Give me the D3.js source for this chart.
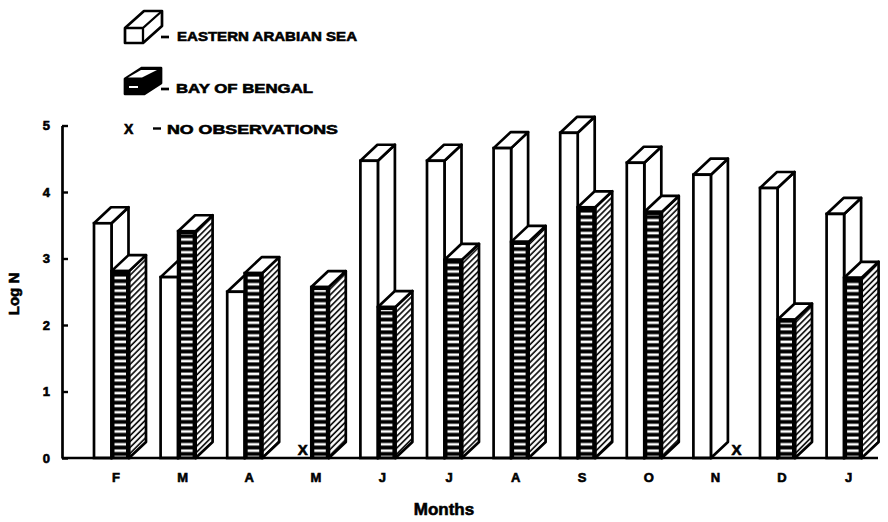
<!DOCTYPE html>
<html>
<head>
<meta charset="utf-8">
<script src="https://cdn.jsdelivr.net/npm/d3@7/dist/d3.min.js"></script>
<style>
  body { margin: 0; background: #fff; }
  svg { display: block; }
  text { font-family: "Liberation Sans", Arial, sans-serif; font-weight: bold; fill: #000; stroke: #000; stroke-width: 0.6; }
</style>
</head>
<body>
<svg id="chart" width="888" height="522"></svg>
<script>
// Monthly Log N, January of the following year at the end
const months = ["F", "M", "A", "M", "J", "J", "A", "S", "O", "N", "D", "J"];
const arabianSea = [3.53, 2.72, 2.50, null, 4.47, 4.47, 4.66, 4.89, 4.44, 4.26, 4.06, 3.67];
const bayOfBengal = [2.81, 3.41, 2.78, 2.57, 2.27, 2.98, 3.25, 3.77, 3.70, null, 2.08, 2.71];
const yTicks = [0, 1, 2, 3, 4, 5];

const svg = d3.select("#chart");

const y = d3.scaleLinear().domain([0, 5]).range([458, 125.5]);
const x = d3.scaleBand().domain(d3.range(months.length)).range([94, 94 + 12 * 66.6]);

const faceW = 17.5;   // width of a bar's front face
const depthX = 17;    // oblique depth offset
const depthY = 16;
const base = y(0);

// patterns: horizontal stripes on the front, diagonal hatch on the side
const defs = svg.append("defs");
const hs = defs.append("pattern").attr("id", "hstripe")
  .attr("patternUnits", "userSpaceOnUse").attr("width", 10).attr("height", 6.4);
hs.append("rect").attr("width", 10).attr("height", 6.4).attr("fill", "#000");
hs.append("rect").attr("y", 1.4).attr("width", 10).attr("height", 2.6).attr("fill", "#fff");

const dg = defs.append("pattern").attr("id", "diag")
  .attr("patternUnits", "userSpaceOnUse").attr("width", 4.2).attr("height", 4.2)
  .attr("patternTransform", "rotate(45)");
dg.append("rect").attr("width", 4.2).attr("height", 4.2).attr("fill", "#fff");
dg.append("line").attr("x1", 1).attr("y1", 0).attr("x2", 1).attr("y2", 4.2)
  .attr("stroke", "#000").attr("stroke-width", 1.6);

const sw = 2.7;

function drawBar(g, xf, v, kind) {
  const yt = y(v);
  const pts = a => a.map(p => p.join(",")).join(" ");
  // side face
  g.append("polygon")
    .attr("points", pts([[xf + faceW, yt], [xf + faceW + depthX, yt - depthY],
                         [xf + faceW + depthX, base - depthY], [xf + faceW, base]]))
    .attr("fill", kind === "bengal" ? "url(#diag)" : "#fff")
    .attr("stroke", "#000").attr("stroke-width", sw).attr("stroke-linejoin", "round");
  // top face
  g.append("polygon")
    .attr("points", pts([[xf, yt], [xf + depthX, yt - depthY],
                         [xf + faceW + depthX, yt - depthY], [xf + faceW, yt]]))
    .attr("fill", "#fff")
    .attr("stroke", "#000").attr("stroke-width", sw).attr("stroke-linejoin", "round");
  // front face
  if (kind === "bengal") {
    g.append("rect").attr("x", xf).attr("y", yt).attr("width", faceW).attr("height", base - yt)
      .attr("fill", "#000");
    g.append("rect").attr("x", xf + 3).attr("y", yt + 3).attr("width", faceW - 6).attr("height", base - yt - 4)
      .attr("fill", "url(#hstripe)");
    g.append("rect").attr("x", xf).attr("y", yt).attr("width", faceW).attr("height", base - yt)
      .attr("fill", "none").attr("stroke", "#000").attr("stroke-width", sw);
  } else {
    g.append("rect").attr("x", xf).attr("y", yt).attr("width", faceW).attr("height", base - yt)
      .attr("fill", "#fff").attr("stroke", "#000").attr("stroke-width", sw);
  }
}

const bars = svg.append("g");
months.forEach((m, i) => {
  const g = bars.append("g");
  const x0 = x(i);
  if (arabianSea[i] != null) drawBar(g, x0, arabianSea[i], "arabian");
  else g.append("text").attr("x", x0 + 9).attr("y", base - 3).attr("text-anchor", "middle")
        .attr("font-size", 15).text("X");
  if (bayOfBengal[i] != null) drawBar(g, x0 + faceW, bayOfBengal[i], "bengal");
  else g.append("text").attr("x", x0 + 43).attr("y", base - 3).attr("text-anchor", "middle")
        .attr("font-size", 15).text("X");
});

// baseline
svg.append("line").attr("x1", 62).attr("x2", 878).attr("y1", base).attr("y2", base)
  .attr("stroke", "#000").attr("stroke-width", 2.7);

// y axis with inward ticks
const yAxis = svg.append("g").attr("transform", "translate(62,0)")
  .call(d3.axisLeft(y).tickValues(yTicks).tickFormat(d3.format("d"))
    .tickSizeInner(-6).tickSizeOuter(0).tickPadding(12));
yAxis.select(".domain").attr("stroke", "#000").attr("stroke-width", 2.7);
yAxis.selectAll(".tick line").attr("stroke", "#000").attr("stroke-width", 2.4);
yAxis.selectAll(".tick text").attr("font-size", 13).attr("font-family", null);

// month labels
svg.append("g").selectAll("text").data(months).join("text")
  .attr("x", (d, i) => x(i) + 22).attr("y", 482)
  .attr("text-anchor", "middle").attr("font-size", 13).text(d => d);

// axis titles
svg.append("text").attr("x", 444).attr("y", 515).attr("text-anchor", "middle")
  .attr("font-size", 17).text("Months");
svg.append("text").attr("transform", "translate(19,294) rotate(-90)")
  .attr("text-anchor", "middle").attr("font-size", 15).text("Log N");

// legend
const lg = svg.append("g");
// open box
const b1 = { x: 125, y: 28, w: 18, h: 15, dx: 19, dy: 17 };
lg.append("polygon").attr("points", [[b1.x, b1.y], [b1.x + b1.dx, b1.y - b1.dy], [b1.x + b1.w + b1.dx, b1.y - b1.dy],
    [b1.x + b1.w + b1.dx, b1.y + b1.h - b1.dy], [b1.x + b1.w, b1.y + b1.h], [b1.x, b1.y + b1.h]].join(" "))
  .attr("fill", "#fff").attr("stroke", "#000").attr("stroke-width", 2.7).attr("stroke-linejoin", "round");
lg.append("polyline").attr("points", [[b1.x, b1.y], [b1.x + b1.w, b1.y], [b1.x + b1.w, b1.y + b1.h]].join(" ") + " " +
    [[b1.x + b1.w, b1.y], [b1.x + b1.w + b1.dx, b1.y - b1.dy]].join(" "))
  .attr("fill", "none").attr("stroke", "#000").attr("stroke-width", 2.3);
// dark box
const b2 = { x: 125, y: 79, w: 19, h: 15, dx: 17, dy: 11 };
lg.append("polygon").attr("points", [[b2.x, b2.y], [b2.x + b2.dx, b2.y - b2.dy], [b2.x + b2.w + b2.dx, b2.y - b2.dy],
    [b2.x + b2.w + b2.dx, b2.y + b2.h - b2.dy], [b2.x + b2.w, b2.y + b2.h], [b2.x, b2.y + b2.h]].join(" "))
  .attr("fill", "#000").attr("stroke", "#000").attr("stroke-width", 2.7).attr("stroke-linejoin", "round");
lg.append("polygon").attr("points", [[b2.x + 3, b2.y - 1.5], [b2.x + b2.dx - 1, b2.y - b2.dy + 2],
    [b2.x + b2.w + b2.dx - 4, b2.y - b2.dy + 2], [b2.x + b2.w - 2, b2.y - 1.5]].join(" "))
  .attr("fill", "#fff");
lg.append("line").attr("x1", b2.x + 4).attr("x2", b2.x + 13).attr("y1", b2.y + 8).attr("y2", b2.y + 8)
  .attr("stroke", "#fff").attr("stroke-width", 2);

// dashes and labels
[[161, 37], [161, 89]].forEach(([dx, dy]) =>
  lg.append("line").attr("x1", dx).attr("x2", dx + 8).attr("y1", dy).attr("y2", dy)
    .attr("stroke", "#000").attr("stroke-width", 2.7));
lg.append("text").attr("x", 177).attr("y", 41).attr("font-size", 13.5)
  .attr("textLength", 180).attr("lengthAdjust", "spacingAndGlyphs").text("EASTERN ARABIAN SEA");
lg.append("text").attr("x", 176).attr("y", 93).attr("font-size", 13.5)
  .attr("textLength", 137).attr("lengthAdjust", "spacingAndGlyphs").text("BAY OF BENGAL");
lg.append("text").attr("x", 124).attr("y", 134).attr("font-size", 14).text("X");
lg.append("line").attr("x1", 153).attr("x2", 161).attr("y1", 128.5).attr("y2", 128.5)
  .attr("stroke", "#000").attr("stroke-width", 2.4);
lg.append("text").attr("x", 167).attr("y", 134).attr("font-size", 13.5)
  .attr("textLength", 171).attr("lengthAdjust", "spacingAndGlyphs").text("NO OBSERVATIONS");
</script>
</body>
</html>
